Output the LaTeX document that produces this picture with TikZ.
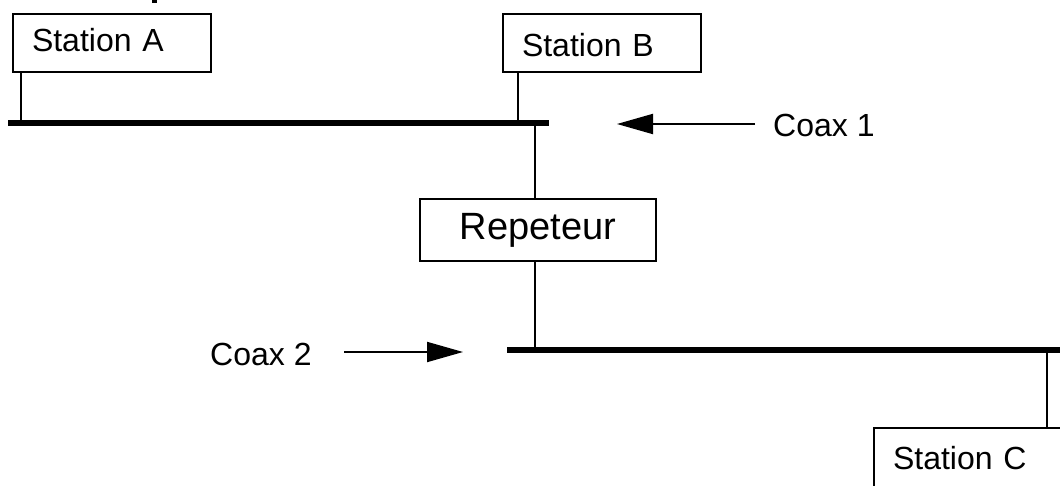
\documentclass[tikz,border=0pt]{standalone}
\usepackage{fontspec}
\setmainfont{Liberation Sans}
\usetikzlibrary{arrows.meta}
\tikzset{
  stationbox/.style={draw, line width=2pt, fill=white, anchor=north west,
    minimum height=58pt, inner xsep=19pt, text width=160pt, align=left,
    font=\fontsize{32}{38}\selectfont, text height=23pt, text depth=0pt},
  repbox/.style={draw, line width=2pt, fill=white, minimum width=236pt,
    minimum height=62pt, font=\fontsize{38}{44}\selectfont},
  bus/.style={line width=5.5pt},
  tap/.style={line width=2pt},
  pointer/.style={line width=2pt, -{Triangle[length=36pt,width=20pt]}},
  lbl/.style={font=\fontsize{32}{38}\selectfont, inner sep=0pt, anchor=base west}
}
\begin{document}
\begin{tikzpicture}[x=1pt,y=-1pt]
\useasboundingbox (0,0) rectangle (1060,485);
\clip (0,0) rectangle (1060,485);
\fill[white] (0,0) rectangle (1060,485);
% cropped mark at top
\fill[black] (152,0) rectangle (157,3);
% bus coordinates
\coordinate (b1l) at (8,123);
\coordinate (b1r) at (549,123);
\coordinate (b2l) at (507,350);
\coordinate (b2r) at (1062,350);
\coordinate (ta) at (21,123);
\coordinate (tb) at (518,123);
\coordinate (tr1) at (535,123);
\coordinate (tr2) at (535,350);
\coordinate (tc) at (1047,350);
% nodes
\node[stationbox, text depth=7pt] (sa) at (12,13) {Station A};
\node[stationbox, text height=26pt] (sb) at (502,13) {Station B};
\node[stationbox, minimum height=66pt, text depth=7pt] (sc) at (873,427) {Station C};
\node[repbox] (rep) at (538,230) {Repeteur};
% buses
\draw[bus] (b1l) -- (b1r);
\draw[bus] (b2l) -- (b2r);
% taps
\draw[tap] (ta |- sa.south) -- (ta);
\draw[tap] (tb |- sb.south) -- (tb);
\draw[tap] (tr1) -- (tr1 |- rep.north);
\draw[tap] (tr2 |- rep.south) -- (tr2);
\draw[tap] (tc) -- (tc |- sc.north);
% labels and pointers
\node[lbl] (c1) at (773,136) {Coax 1};
\node[lbl] (c2) at (210,365) {Coax 2};
\coordinate (c1s) at (755,124);
\coordinate (c1e) at (617,124);
\coordinate (c2s) at (344,352);
\coordinate (c2e) at (463,352);
\draw[pointer] (c1s) -- (c1e);
\draw[pointer] (c2s) -- (c2e);
\end{tikzpicture}
\end{document}
